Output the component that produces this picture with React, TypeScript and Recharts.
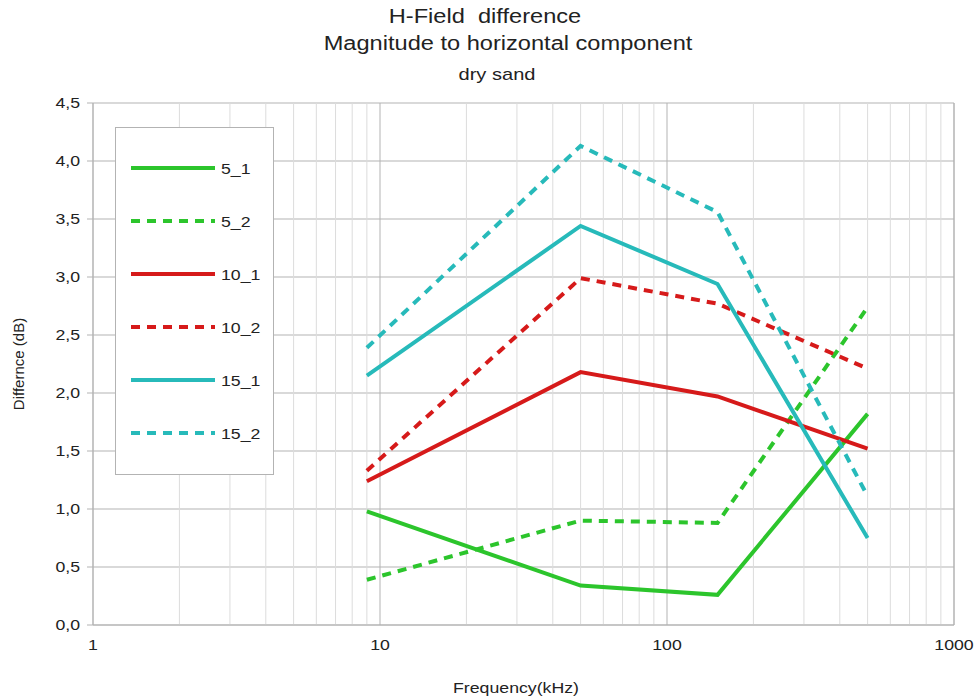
import React from 'react';
import {
    LineChart,
    Line,
    XAxis,
    YAxis,
    CartesianGrid,
    ReferenceLine
} from 'recharts';

const FREQS = [9, 50, 150, 500];

const S5_1 = [0.98, 0.34, 0.26, 1.82];
const S5_2 = [0.39, 0.9, 0.88, 2.74];
const S10_1 = [1.24, 2.18, 1.97, 1.52];
const S10_2 = [1.33, 2.99, 2.77, 2.21];
const S15_1 = [2.15, 3.44, 2.94, 0.75];
const S15_2 = [2.39, 4.13, 3.56, 1.11];

const X_TICKS = [1, 10, 100, 1000];
const Y_TICKS = [0, 0.5, 1, 1.5, 2, 2.5, 3, 3.5, 4, 4.5];
const MINOR_X = [2, 3, 4, 5, 6, 7, 8, 9, 20, 30, 40, 50, 60, 70, 80, 90, 200, 300, 400, 500, 600, 700, 800, 900];

const GREEN = '#2cc52c';
const RED = '#d61a1a';
const TEAL = '#27baba';

const SERIES = [
    { key: '5_1', values: S5_1, color: GREEN, dashed: false },
    { key: '5_2', values: S5_2, color: GREEN, dashed: true },
    { key: '10_1', values: S10_1, color: RED, dashed: false },
    { key: '10_2', values: S10_2, color: RED, dashed: true },
    { key: '15_1', values: S15_1, color: TEAL, dashed: false },
    { key: '15_2', values: S15_2, color: TEAL, dashed: true }
];

const data = FREQS.map((f, i) => {
    const row: Record<string, number> = { f };
    SERIES.forEach((s) => {
        row[s.key] = s.values[i];
    });
    return row;
});

const FONT = '"Liberation Sans", Arial, sans-serif';
// the reference text is a bit wider than the font draws it
const SX = 1.18;
const TEXT = '#222';

function XTick({ x, y, payload }: any) {
    return (
        <g transform={`translate(${x},${y + 17}) scale(${SX},1)`}>
            <text textAnchor="middle" fill={TEXT} fontSize={15} fontFamily={FONT}>
                {payload.value}
            </text>
        </g>
    );
}

function YTick({ x, y, payload }: any) {
    return (
        <g transform={`translate(${x - 2},${y + 5}) scale(${SX},1)`}>
            <text textAnchor="end" fill={TEXT} fontSize={15} fontFamily={FONT}>
                {payload.value.toFixed(1).replace('.', ',')}
            </text>
        </g>
    );
}

function Centered({ cx, top, size, children }: { cx: number; top: number; size: number; children: React.ReactNode }) {
    return (
        <div
            style={{
                position: 'absolute',
                left: cx,
                top,
                whiteSpace: 'nowrap',
                fontSize: size,
                color: TEXT,
                transform: `translateX(-50%) scaleX(${SX})`
            }}
        >
            {children}
        </div>
    );
}

function LegendBox() {
    return (
        <div
            style={{
                position: 'absolute',
                left: 115,
                top: 127,
                width: 157,
                height: 346,
                border: '1px solid #b3b3b3',
                background: '#fff',
                fontSize: 15,
                color: TEXT
            }}
        >
            {SERIES.map((s, i) => (
                <div
                    key={s.key}
                    style={{ position: 'absolute', left: 15, top: 40 + i * 53 - 10, height: 20, display: 'flex', alignItems: 'center' }}
                >
                    <svg width={86} height={8}>
                        <line
                            x1={0}
                            y1={4}
                            x2={84}
                            y2={4}
                            stroke={s.color}
                            strokeWidth={4}
                            strokeDasharray={s.dashed ? '9 7' : undefined}
                        />
                    </svg>
                    <span style={{ marginLeft: 4, display: 'inline-block', transform: `scaleX(${SX})`, transformOrigin: 'left center' }}>
                        {s.key}
                    </span>
                </div>
            ))}
        </div>
    );
}

export default function App() {
    return (
        <div style={{ position: 'absolute', left: 0, top: 0, width: 979, height: 699, background: '#fff', fontFamily: FONT }}>
            <Centered cx={485} top={5} size={20}>H-Field&nbsp; difference</Centered>
            <Centered cx={508} top={32} size={20}>Magnitude to horizontal component</Centered>
            <Centered cx={497} top={65} size={17}>dry sand</Centered>
            <div style={{ position: 'absolute', left: 0, top: 0 }}>
                <LineChart width={979} height={699} data={data} margin={{ top: 103, right: 25, bottom: 0, left: 0 }}>
                    <CartesianGrid stroke="#b3b3b3" vertical={false} />
                    {MINOR_X.map((v) => (
                        <ReferenceLine key={v} x={v} stroke="#dcdcdc" strokeWidth={1} />
                    ))}
                    {X_TICKS.map((v) => (
                        <ReferenceLine key={'m' + v} x={v} stroke="#b3b3b3" strokeWidth={1} />
                    ))}
                    <XAxis
                        dataKey="f"
                        type="number"
                        scale="log"
                        domain={[1, 1000]}
                        ticks={X_TICKS}
                        allowDataOverflow
                        height={74}
                        stroke="#b3b3b3"
                        tickLine={false}
                        tick={<XTick />}
                    />
                    <YAxis
                        type="number"
                        domain={[0, 4.5]}
                        ticks={Y_TICKS}
                        width={93}
                        stroke="#b3b3b3"
                        tickSize={6}
                        tickMargin={5}
                        tick={<YTick />}
                        label={{ value: 'Differnce (dB)', angle: -90, position: 'insideLeft', offset: 19, fill: TEXT, fontSize: 15, style: { textAnchor: 'middle' } }}
                    />
                    <ReferenceLine x={1000} stroke="#b3b3b3" />
                    {SERIES.map((s) => (
                        <Line
                            key={s.key}
                            dataKey={s.key}
                            stroke={s.color}
                            strokeWidth={4}
                            strokeDasharray={s.dashed ? '9 7' : undefined}
                            dot={false}
                            activeDot={false}
                            isAnimationActive={false}
                        />
                    ))}
                </LineChart>
            </div>
            <Centered cx={516} top={679} size={15}>Frequency(kHz)</Centered>
            <LegendBox />
        </div>
    );
}
